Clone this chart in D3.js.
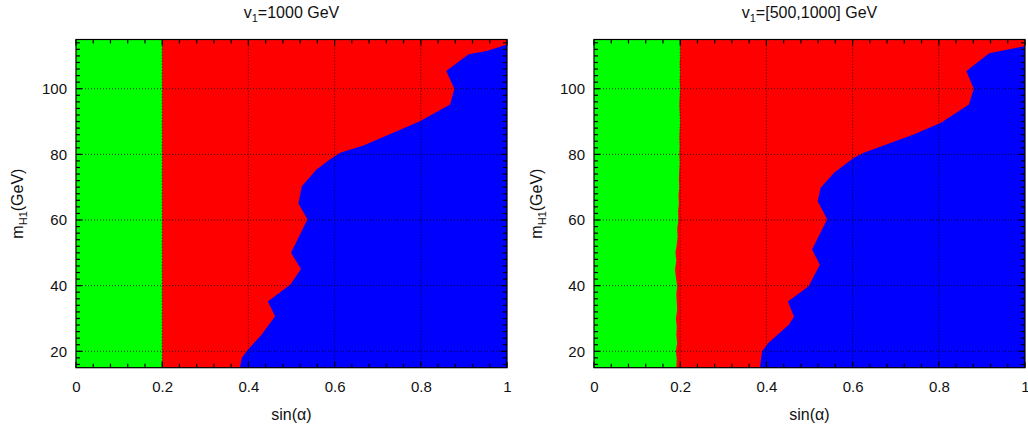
<!DOCTYPE html>
<html><head><meta charset="utf-8">
<script src="https://cdn.jsdelivr.net/npm/d3@7"></script>
<style>
body{margin:0;background:#fff;}
text{font-family:"Liberation Sans",Arial,sans-serif;fill:#111;}
</style></head>
<body><svg id="c" width="1028" height="430"></svg>
<script>
// ---- data ----
const xTicks = [0, 0.2, 0.4, 0.6, 0.8, 1];
const yTicks = [20, 40, 60, 80, 100];
const titles = ["1000 GeV", "[500,1000] GeV"];

// left panel: green/red boundary (sin a) and red/blue boundary
const leftGreenM = [15, 115];
const leftGreenS = [0.2, 0.2];
const leftBlueM = [15, 18, 20, 25, 30.7, 35.2, 40.3, 45.1, 50, 60.2, 65, 70.3, 75.4, 78.4, 80.5, 82.7, 90.1, 95.2, 100, 105.4, 110.5, 111.5, 113.5, 115];
const leftBlueS = [0.38, 0.385, 0.396, 0.43, 0.462, 0.445, 0.497, 0.522, 0.499, 0.537, 0.516, 0.524, 0.558, 0.589, 0.613, 0.667, 0.798, 0.868, 0.878, 0.859, 0.911, 0.953, 1.0, 1.0];

// right panel
const rightGreenM = [15, 17.5, 20, 22.5, 25, 27.5, 30, 32.5, 35, 37.5, 40, 42.5, 45, 47.5, 50, 52.5, 55, 57.5, 60, 62.5, 65, 67.5, 70, 72.5, 75, 77.5, 80, 82.5, 85, 87.5, 90, 92.5, 95, 97.5, 100, 102.5, 105, 107.5, 110, 112.5, 115];
const rightGreenS = [0.191, 0.192, 0.190, 0.193, 0.191, 0.192, 0.190, 0.193, 0.192, 0.191, 0.193, 0.190, 0.188, 0.191, 0.189, 0.192, 0.194, 0.193, 0.196, 0.195, 0.197, 0.196, 0.198, 0.197, 0.198, 0.199, 0.198, 0.199, 0.198, 0.199, 0.2, 0.199, 0.198, 0.199, 0.2, 0.199, 0.2, 0.199, 0.2, 0.2, 0.2];
const rightBlueM = [15, 20, 22.6, 28.1, 30.5, 35.2, 39.8, 46.4, 51, 60.2, 65.7, 69.8, 74.4, 79, 80.5, 86.1, 89.6, 95.2, 100, 105.4, 110.8, 113, 115];
const rightBlueS = [0.385, 0.39, 0.405, 0.452, 0.464, 0.45, 0.498, 0.524, 0.506, 0.541, 0.519, 0.526, 0.557, 0.603, 0.626, 0.743, 0.805, 0.87, 0.881, 0.864, 0.917, 1.0, 1.0];

const panels = [
  {x0: 76, x1: 507, title: titles[0], gM: leftGreenM, gS: leftGreenS, bM: leftBlueM, bS: leftBlueS, ylabX: 17},
  {x0: 594, x1: 1025, title: titles[1], gM: rightGreenM, gS: rightGreenS, bM: rightBlueM, bS: rightBlueS, ylabX: 536}
];

const svg = d3.select("#c");
const yTop = 39.5, yBot = 367.7;

panels.forEach(p => {
  const x = d3.scaleLinear().domain([0, 1]).range([p.x0, p.x1]);
  const y = d3.scaleLinear().domain([15, 115]).range([yBot, yTop]);
  const g = svg.append("g");

  // red background
  g.append("rect").attr("x", x(0)).attr("y", y(115)).attr("width", x(1) - x(0)).attr("height", y(15) - y(115)).attr("fill", "#ff0000");

  // green
  const green = p.gM.map((m, i) => ({m, s: p.gS[i]}));
  g.append("path").datum(green)
    .attr("d", d3.area().y(d => y(d.m)).x0(x(0)).x1(d => x(d.s)).curve(d3.curveStepAfter === undefined ? d3.curveLinear : d3.curveLinear))
    .attr("fill", "#00ff00");

  // blue
  const blue = p.bM.map((m, i) => ({m, s: p.bS[i]}));
  g.append("path").datum(blue)
    .attr("d", d3.area().y(d => y(d.m)).x0(d => x(d.s)).x1(x(1)))
    .attr("fill", "#0000ff");

  // grid
  const grid = g.append("g").attr("stroke", "#000").attr("stroke-width", 0.8).attr("stroke-dasharray", "1,2");
  xTicks.slice(1, -1).forEach(t => grid.append("line").attr("x1", x(t)).attr("x2", x(t)).attr("y1", y(15)).attr("y2", y(115)));
  yTicks.forEach(t => grid.append("line").attr("x1", x(0)).attr("x2", x(1)).attr("y1", y(t)).attr("y2", y(t)));

  // inward ticks
  const tk = g.append("g").attr("stroke", "#000").attr("stroke-width", 1.2);
  d3.range(0, 1.0001, 0.04).forEach(t => {
    const major = xTicks.some(v => Math.abs(v - t) < 1e-6);
    const L = major ? 6 : 4;
    tk.append("line").attr("x1", x(t)).attr("x2", x(t)).attr("y1", y(15)).attr("y2", y(15) - L);
    tk.append("line").attr("x1", x(t)).attr("x2", x(t)).attr("y1", y(115)).attr("y2", y(115) + L);
  });
  d3.range(16, 115, 2).forEach(t => {
    const major = yTicks.includes(t);
    const L = major ? 6 : 4;
    tk.append("line").attr("x1", x(0)).attr("x2", x(0) + L).attr("y1", y(t)).attr("y2", y(t));
    tk.append("line").attr("x1", x(1)).attr("x2", x(1) - L).attr("y1", y(t)).attr("y2", y(t));
  });

  // frame
  g.append("rect").attr("x", x(0)).attr("y", y(115)).attr("width", x(1) - x(0)).attr("height", y(15) - y(115))
    .attr("fill", "none").attr("stroke", "#000").attr("stroke-width", 1.2);

  // axes labels
  const ax = g.append("g").attr("transform", `translate(0,${yBot})`)
    .call(d3.axisBottom(x).tickValues(xTicks).tickFormat(d3.format("~g")).tickSize(0).tickPadding(14));
  ax.select(".domain").remove();
  ax.selectAll("text").style("font-size", "15px").attr("fill", "#111").style("font-family", '"Liberation Sans",Arial,sans-serif');

  const ay = g.append("g").attr("transform", `translate(${p.x0},0)`)
    .call(d3.axisLeft(y).tickValues(yTicks).tickSize(0).tickPadding(9));
  ay.select(".domain").remove();
  ay.selectAll("text").style("font-size", "15px").attr("fill", "#111").style("font-family", '"Liberation Sans",Arial,sans-serif');

  const cx = (p.x0 + p.x1) / 2;
  // title
  const t = g.append("text").attr("x", cx).attr("y", 18).attr("text-anchor", "middle").style("font-size", "16px");
  t.append("tspan").text("v");
  t.append("tspan").attr("dy", 4).style("font-size", "11px").text("1");
  t.append("tspan").attr("dy", -4).text("=" + p.title);

  // x label
  g.append("text").attr("x", cx).attr("y", 420).attr("text-anchor", "middle").style("font-size", "16px").text("sin(α)");

  // y label
  const yl = g.append("text").attr("transform", `translate(${p.ylabX + 6},${(yTop + yBot) / 2}) rotate(-90)`)
    .attr("text-anchor", "middle").style("font-size", "16px");
  yl.append("tspan").text("m");
  yl.append("tspan").attr("dy", 4).style("font-size", "11px").text("H1");
  yl.append("tspan").attr("dy", -4).text("(GeV)");
});
</script></body></html>
